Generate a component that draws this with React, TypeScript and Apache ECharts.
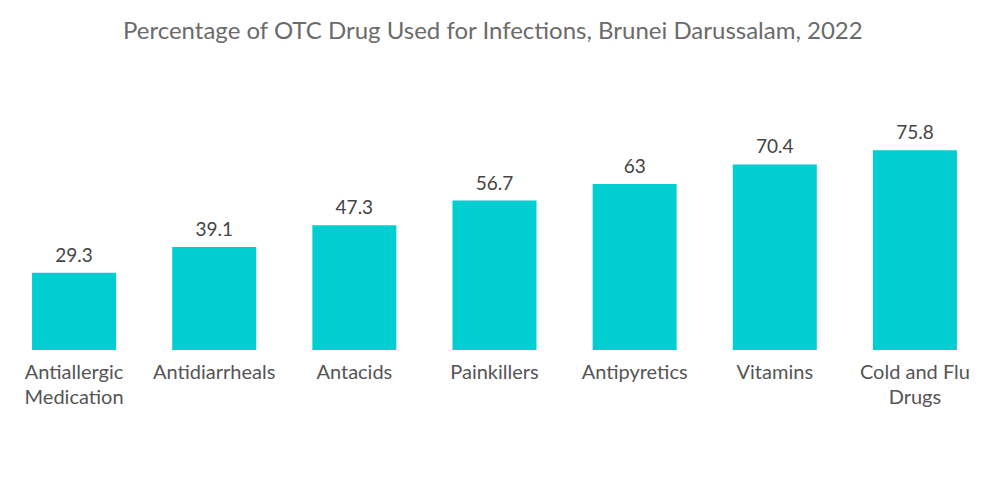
import React, { useEffect, useRef } from "react";
import * as echarts from "echarts";

const titleText = "Percentage of OTC Drug Used for Infections, Brunei Darussalam, 2022";
const categories = [
  "Antiallergic\nMedication",
  "Antidiarrheals",
  "Antacids",
  "Painkillers",
  "Antipyretics",
  "Vitamins",
  "Cold and Flu\nDrugs",
];
const values = [29.3, 39.1, 47.3, 56.7, 63, 70.4, 75.8];

export default function App() {
  const ref = useRef<HTMLDivElement>(null);
  useEffect(() => {
    document.body.style.margin = "0";
    const chart = echarts.init(ref.current!, null, { renderer: "svg" });
    chart.setOption({
      animation: false,
      backgroundColor: "#ffffff",
      textStyle: { fontFamily: "Lato" },
      title: {
        text: titleText,
        left: 118,
        top: 12,
        textStyle: {
          fontFamily: "Lato",
          fontSize: 24,
          fontWeight: "normal",
          color: "#6b6b6b",
        },
      },
      grid: { left: 4, right: 15, top: 139.2, bottom: 154, containLabel: false },
      xAxis: {
        type: "category",
        data: categories,
        axisLine: { show: false },
        axisTick: { show: false },
        axisLabel: {
          fontFamily: "Lato",
          fontSize: 20,
          color: "#555555",
          lineHeight: 25,
          margin: 8,
          interval: 0,
        },
      },
      yAxis: {
        type: "value",
        min: 0,
        max: 80,
        show: false,
        splitLine: { show: false },
      },
      series: [
        {
          type: "bar",
          data: values,
          barWidth: 84,
          itemStyle: { color: "#00CED1" },
          label: {
            show: true,
            position: "top",
            distance: 9,
            fontFamily: "Lato",
            fontSize: 19,
            color: "#444444",
          },
        },
      ],
    });
    return () => chart.dispose();
  }, []);
  return (
    <div
      ref={ref}
      style={{ position: "absolute", left: 0, top: 0, width: 1000, height: 504 }}
    />
  );
}
